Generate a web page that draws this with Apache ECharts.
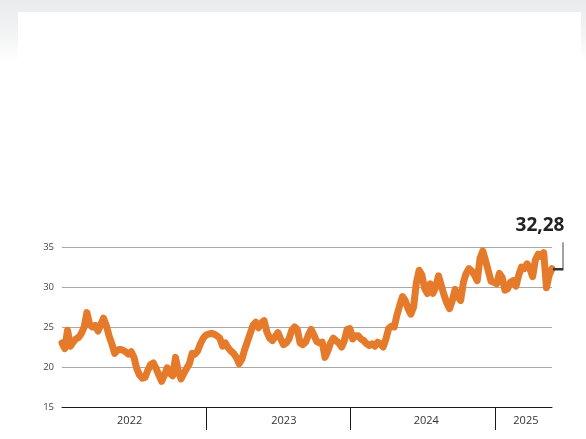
<!DOCTYPE html>
<html>
<head>
<meta charset="utf-8">
<script src="https://cdn.jsdelivr.net/npm/echarts@6/dist/echarts.min.js"></script>
<style>
  html, body { margin: 0; padding: 0; }
  body {
    width: 586px; height: 439px; position: relative; overflow: hidden;
    background: linear-gradient(to bottom, #eaebed 0px, #f1f2f3 30px, #ffffff 62px, #ffffff 100%);
  }
  #card { position: absolute; left: 18px; top: 12px; width: 563px; height: 427px; background: #fff; }
  #chart { position: absolute; left: 0; top: 0; width: 586px; height: 439px; }
</style>
</head>
<body>
<div id="card"></div>
<div id="chart"></div>
<script>
// Weekly closing values, first week starting 2022-01-01
const startDate = '2022-01-01';
const values = [
  23.0, 22.3, 24.6, 22.6, 23.1, 23.5, 23.7, 24.2, 25.0, 26.8,
  25.3, 25.0, 25.2, 24.5, 25.3, 26.1, 25.2, 23.9, 22.9, 21.7,
  22.1, 22.2, 22.1, 21.9, 21.6, 21.9, 21.2, 19.8, 19.0, 18.6,
  18.7, 19.6, 20.3, 20.5, 19.8, 19.0, 18.2, 19.0, 19.9, 19.2,
  18.9, 21.2, 19.5, 18.5, 19.2, 19.8, 20.4, 21.7, 21.6, 22.0,
  22.9, 23.6, 24.0, 24.1, 24.2, 24.1, 23.9, 23.6, 22.6, 23.0,
  22.4, 22.0, 21.7, 21.2, 20.4, 21.0, 22.2, 23.2, 24.2, 25.2,
  25.6, 24.9, 25.5, 25.8, 24.4, 23.6, 23.3, 23.8, 24.3, 23.5,
  22.8, 23.0, 23.5, 24.6, 25.0, 24.7, 23.0, 22.8, 23.1, 24.0,
  24.7, 24.0, 23.2, 23.0, 23.1, 21.2, 22.0, 23.0, 23.6, 23.3,
  23.0, 22.5, 23.3, 24.7, 24.8, 23.5, 23.9, 23.9, 23.5, 23.3,
  22.9, 22.7, 22.9, 22.6, 23.1, 22.9, 22.5, 23.5, 24.8, 25.1,
  25.0, 26.5, 27.7, 28.8, 28.3, 27.3, 26.6, 27.5, 30.5, 32.1,
  31.5, 29.8, 29.2, 30.4, 29.2, 30.0, 31.4, 30.2, 29.0, 28.0,
  27.3, 28.3, 29.7, 28.8, 28.3, 30.6, 31.7, 32.3, 32.0, 31.5,
  30.8, 33.6, 34.5, 33.3, 32.0, 30.7, 30.6, 30.4, 31.7, 31.2,
  29.6, 29.8, 30.6, 30.8, 30.1, 31.5, 32.5, 32.3, 32.9, 32.3,
  31.3, 33.4, 34.1, 33.8, 34.3, 29.9, 31.5, 32.28
];
const yearBoundaries = ['2023-01-01', '2024-01-01', '2025-01-01'];
const yearLabels = ['2022', '2023', '2024', '2025'];
const yearLabelDates = ['2022-06-21', '2023-07-16', '2024-07-10', '2025-03-19'];
const yTicks = [15, 20, 25, 30, 35];

const DAY = 86400000;
const t0 = Date.parse(startDate + 'T00:00:00Z');
const dates = values.map((_, i) => t0 + i * 7 * DAY);
const seriesData = values.map((v, i) => [dates[i], v]);
const lastIdx = values.length - 1;
const lastVal = values[lastIdx];
const labelTs = yearLabelDates.map(d => Date.parse(d + 'T00:00:00Z'));
const tickTs = yearBoundaries.map(d => Date.parse(d + 'T00:00:00Z'));

const chart = echarts.init(document.getElementById('chart'), null, { renderer: 'canvas' });
chart.setOption({
  backgroundColor: 'transparent',
  animation: false,
  grid: { left: 62, right: 34, top: 247, bottom: 32, containLabel: false },
  xAxis: {
    type: 'value',
    min: t0,
    max: dates[lastIdx],
    axisLine: { show: true, lineStyle: { color: '#1a1a1a', width: 1 } },
    axisTick: {
      show: true, inside: false, length: 23,
      customValues: tickTs,
      lineStyle: { color: '#1a1a1a', width: 1 }
    },
    axisLabel: {
      show: true,
      customValues: labelTs,
      formatter: function (v) {
        const i = labelTs.indexOf(v);
        return i >= 0 ? yearLabels[i] : '';
      },
      color: '#333', fontSize: 11, fontFamily: 'Open Sans, sans-serif', margin: 8
    },
    splitLine: { show: false }
  },
  yAxis: {
    type: 'value',
    min: yTicks[0], max: yTicks[yTicks.length - 1], interval: 5,
    axisLine: { show: false }, axisTick: { show: false },
    axisLabel: { color: '#444', fontSize: 9.5, fontFamily: 'Open Sans, sans-serif', margin: 8 },
    splitLine: { show: true, lineStyle: { color: '#a8a8a8', width: 1 } }
  },
  series: [{
    type: 'line',
    data: seriesData,
    showSymbol: false,
    clip: false,
    lineStyle: { color: '#e67a2b', width: 7, join: 'round', cap: 'round' },
    itemStyle: { color: '#e67a2b' },
    markPoint: {
      silent: true,
      data: [{
        coord: seriesData[lastIdx],
        symbol: 'path://M0,27 L10,27 L10,0',
        symbolSize: [10, 27],
        symbolOffset: [6, -13],
        itemStyle: { color: 'none', borderColor: '#333', borderWidth: 1.5 },
        label: {
          show: true,
          position: [13, -3],
          align: 'right',
          verticalAlign: 'bottom',
          formatter: lastVal.toFixed(2).replace('.', ','),
          color: '#222', fontSize: 19, fontWeight: 'bold',
          fontFamily: 'Open Sans, sans-serif'
        }
      }]
    }
  }]
});
</script>
</body>
</html>
